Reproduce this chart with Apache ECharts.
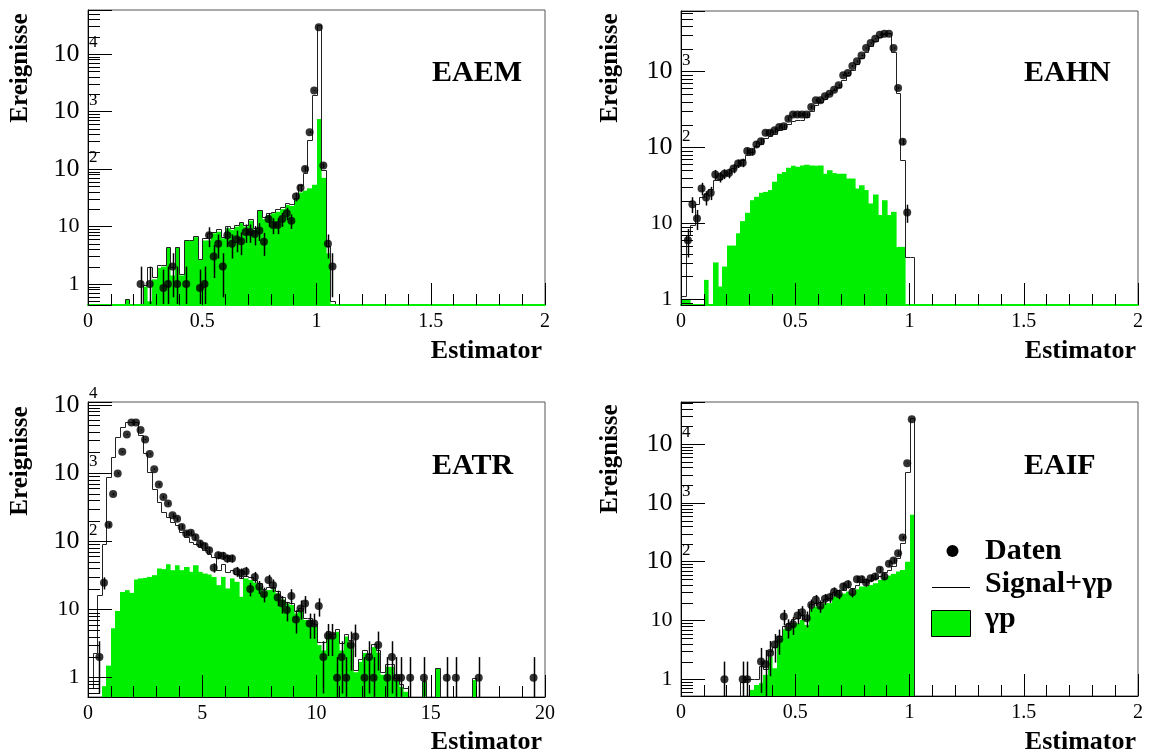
<!DOCTYPE html>
<html><head><meta charset="utf-8">
<script src="https://cdn.jsdelivr.net/npm/echarts@6/dist/echarts.min.js"></script>
<style>html,body{margin:0;padding:0;background:#fff}#c{width:1150px;height:755px}</style>
</head><body><div id="c"></div>
<script>
// ---------------- data (one value per bin) ----------------
// EAEM : bins of 0.02 starting at 0
const eaemGamma = [0,0,0,0,0,0,0,0,0.54,0, 0,0,0.9,0.5,1.2,1.9,2.0,4.2,1.4,4.3, 1.4,5.7,5.7,6.5,2.6,5.7,5.7,7.6,8.1,6.2, 9.3,8.7,9.9,11.4,9.9,12.6,8.7,18.8,13.3,15.8, 16.9,18,20,23.6,22.7,28.9,39,42,46,53, 740,70,3.4,0];
const eaemSignal = [0,0,0,0,0,0,0,0,0.54,0, 0,0,0.95,2.0,1.3,2.1,2.1,4.3,2.0,4.4, 1.5,5.9,5.9,6.7,2.7,6.2,7.6,8.0,8.9,6.6, 10,9.3,10.5,12,10.5,13.2,9.3,19.5,14.5,17, 18,20,22,26,25,31,52,84,318,1940, 32000,96,4.5,0.5];
const eaemData = [0,0,0,0,0,0,0,0,0,0, 0,1,0,1,0,0,0.85,1,2,1, 0,1,0,0,0.85,1,7,3,5,2, 7,5,6,5.5,8,8,7.4,8.5,5.4,13.5, 10.6,10.6,13.5,17,12.6,33,47,100,436,2300, 29000,115,5,2];

// EAHN : bins of 0.02 starting at 0
const eahnGamma = [1.0,1.0,0,0,0,1.8,0,3.06,1.47,2.7, 5.1,5.1,7.4,10.7,13.8,20.2,22.4,25.3,26,27.5, 35.4,45,47.5,54,57.5,55.6,58,59.4,58,57.5, 58,45,50,46,45,45,39,39,28.8,31.8, 27.5,18.3,24,12.9,20.2,12.9,14.2,4.9,4.9,0, 0];
const eahnSignal = [1.1,7,9.5,18,22,25,28,37,39,43, 46,53,58,69,79,88,104,112,133,140, 152,169,178,205,223,228,232,253,303,361, 400,440,500,565,625,766,890,1065,1275,1520, 1800,2200,2560,2890,3160,3260,1800,525,69,3.6, 3.6];
const eahnData = [0,6.0,17.9,11.6,28.9,21.9,25.3,44,41,45, 46,53,61.5,63,90,88,110,121,156,156, 169,187,191,240,272,272,272,272,343,419, 419,473,513,579,661,894,960,1186,1366,1637, 2046,2382,2716,3065,3160,3160,2046,610,119,13.9, 0];

// EATR : bins of 0.2 starting at 0
const eatrGamma = [0,0,0,0.75,1.5,5.3,9.5,18,19.2,17.5, 27.5,28.5,29,30,31.8,39.8,39,46,37.6,44.6, 37.6,42,35.6,44.6,35.6,33.6,32.5,30,22.7,30, 20.3,28.5,25.4,15.3,28.5,27,24.6,21.6,18,19.2, 19.6,17.2,14,12.2,11.6,8.7,9.8,7,7,5.7, 3.0,2.5,4.4,4.0,4.7,2.5,4.0,3.2,1.2,1.7, 2.3,2.0,2.8,2.3,1.1,1.44,1.44,0.92,0.73,0.62, 0,0,0,0.87,0,0,1.36,0,0,0, 0,0,0,0,0.92,0,0,0,0,0, 0,0,0,0,0,0,0,0];
const eatrSignal = [0.7,2.26,16.2,92.6,861,1740,3390,4750,5650,5650, 5650,3560,1940,1040,593,378,270,228,193,172, 137,116,98,92.6,82.7,74,66,59,37.6,47, 35.6,38,33,29,31,30,27,24,20,21, 21,18.5,15,13,12.5,9.5,10.5,7.6,7.6,6.2, 3.3,3.3,4.8,4.4,5.1,3.2,4.4,3.6,1.3,1.9, 2.5,2.2,3.1,2.5,1.2,1.6,1.6,1.0,0.8,0.7, 0,0,0,0.9,0,0,1.4,0,0,0, 0,0,0,0,1.0,0,0,0,0,0, 0,0,0,0,0,0,0,0];
const eatrData = [0,0,2,24.6,174,491,987,2048,3670,5500, 5500,4270,3090,1900,1140,680,445,357,240,214, 162,130,133,114,93,85,74,41,62.5,61, 56,56,36,34,36,20,30,21.5,16.8,27, 22.7,15,12.2,9.8,15.8,7.1,10.3,12.2,6.2,6.2, 11.2,2,4.1,4.1,1,2,1,3,4,0, 1,2,1,3,0,1,2,1,1,0, 1,0,0,1,0,0,0,0,1,0, 1,0,0,0,0,1,0,0,0,0, 0,0,0,0,0,0,0,1];

// EAIF : bins of 0.02 starting at 0
const eaifGamma = [0,0,0,0,0,0,0,0,0,0, 0,0,0,0,0,0.66,0.8,0.86,1.19,2.4, 1.54,5.0,7.1,7.7,9.0,9.0,10.2,8.4,16.2,17.3, 17.3,19.7,19.7,25.5,29,28.6,31,29,34,37.8, 37.8,40,43,49,54,58,62,68,72,100, 625];
const eaifSignal = [0,0,0,0,0,0,0,0,0,0, 0,0,0,0.9,1.0,1.0,1.0,1.7,1.5,3.0, 3.6,5.5,8.2,9,10.5,11,12.5,10.5,19,20, 21,23.5,24,30,33,33,37,35,40,45, 45,49,52,58,66,72,84,114,205,3400, 27600];
const eaifData = [0,0,0,0,0,0,0,0,0,1, 0,0,0,1,1,0,0,2,1.8,2.8, 3.9,4.8,11.7,7.7,8.6,12.1,13.8,10.9,18.4,22.4, 17.7,23.3,24.9,30.9,28.3,37.8,41.4,30.2,50.4,50.4, 44.2,52.3,55.9,72.5,55.9,91.8,105,139,257,4720, 26400];

const panelNames = ['EAEM', 'EAHN', 'EATR', 'EAIF'];
const legendLabels = ['Daten', 'Signal+\u03b3p', '\u03b3p'];
const yTitle = 'Ereignisse';
const xTitle = 'Estimator';

// ---------------- layout / style ----------------
const GREEN = '#00ee00';
const FONT = '"Liberation Serif", "Times New Roman", serif';
const panels = [
  {name: panelNames[0], gamma: eaemGamma, signal: eaemSignal, data: eaemData, bw: 0.02, xmax: 2, xint: 0.5, ymin: 0.43, ymax: 58000,
   grid: {left: 88, top: 10, width: 457, height: 295}, greenBase: true, lab: [432, 73], yt: [21, 68], xt: [542, 351]},
  {name: panelNames[1], gamma: eahnGamma, signal: eahnSignal, data: eahnData, bw: 0.02, xmax: 2, xint: 0.5, ymin: 0.84, ymax: 6300,
   grid: {left: 681, top: 11, width: 457, height: 294}, greenBase: true, lab: [1024, 73], yt: [611, 68], xt: [1136, 351]},
  {name: panelNames[2], gamma: eatrGamma, signal: eatrSignal, data: eatrData, bw: 0.2, xmax: 20, xint: 5, ymin: 0.52, ymax: 11000,
   grid: {left: 88, top: 402, width: 457, height: 295}, greenBase: false, lab: [432, 466], yt: [21, 461], xt: [542, 742]},
  {name: panelNames[3], gamma: eaifGamma, signal: eaifSignal, data: eaifData, bw: 0.02, xmax: 2, xint: 0.5, ymin: 0.52, ymax: 51700,
   grid: {left: 681, top: 402, width: 457, height: 294}, greenBase: false, lab: [1024, 466], yt: [611, 459], xt: [1136, 742]}
];

const crisp = p => [Math.round(p[0]) + 0.5, Math.round(p[1]) + 0.5];

function yFmt(v) {
  const e = Math.log10(v), r = Math.round(e);
  if (Math.abs(e - r) > 1e-6) return '';
  if (r === 0) return '{c|1}{p| }';
  if (r === 1) return '{c|10}{p| }';
  return '{b|10}{g| }{s|' + r + '}';
}

const grids = [], xAxes = [], yAxes = [], series = [], graphics = [];

panels.forEach((p, i) => {
  grids.push(Object.assign({show: true, borderColor: '#555', borderWidth: 1, backgroundColor: 'transparent'}, p.grid));
  xAxes.push({
    gridIndex: i, type: 'value', min: 0, max: p.xmax, interval: p.xint, z: 5,
    axisLine: {onZero: false, lineStyle: {color: p.greenBase ? GREEN : '#000', width: p.greenBase ? 2 : 1}},
    axisTick: {inside: true, length: 22, lineStyle: {color: '#000'}},
    minorTick: {show: true, splitNumber: 5, length: 11, lineStyle: {color: '#000'}},
    splitLine: {show: false}, minorSplitLine: {show: false},
    axisLabel: {margin: 7, fontSize: 20, fontFamily: FONT, color: '#000'}
  });
  yAxes.push({
    gridIndex: i, type: 'log', logBase: 10, min: p.ymin, max: p.ymax, z: 5,
    axisLine: {lineStyle: {color: '#000'}},
    axisTick: {inside: true, length: 24, lineStyle: {color: '#000'}},
    splitLine: {show: false},
    axisLabel: {
      margin: -9.5, formatter: yFmt, color: '#000',
      rich: {
        b: {fontSize: 26, fontFamily: FONT, color: '#000'},
        c: {fontSize: 22, fontFamily: FONT, color: '#000'},
        g: {width: 9.5},
        p: {width: 18},
        s: {fontSize: 17, fontFamily: FONT, color: '#000', padding: [0, 0, 22, 0]}
      }
    }
  });

  const ymin = p.ymin, bw = p.bw;
  // green gamma-p histogram
  const barData = [];
  p.gamma.forEach((v, k) => { if (v > 0) barData.push([k * bw, (k + 1) * bw, v]); });
  series.push({
    type: 'custom', name: '\u03b3p', xAxisIndex: i, yAxisIndex: i, z: 2, clip: true, silent: true,
    encode: {x: [0, 1], y: 2}, data: barData,
    renderItem: (params, api) => {
      const a = api.coord([api.value(0), ymin]);
      const b = api.coord([api.value(1), api.value(2)]);
      const x0 = Math.round(a[0]), x1 = Math.round(b[0]);
      return {type: 'rect', shape: {x: x0, y: b[1], width: x1 - x0 + 0.6, height: a[1] - b[1]}, style: {fill: GREEN}};
    }
  });
  // signal + gamma-p step outline
  const stepData = [];
  const n = p.signal.length;
  for (let k = 0; k <= n; k++) {
    const v = k < n ? p.signal[k] : 0, vp = k > 0 ? p.signal[k - 1] : 0;
    if (v <= 0 && vp <= 0) continue;
    stepData.push([k * bw, (k + 1) * bw, Math.max(v, ymin), Math.max(vp, ymin)]);
  }
  series.push({
    type: 'custom', name: 'Signal+\u03b3p', xAxisIndex: i, yAxisIndex: i, z: 3, clip: true, silent: true,
    encode: {x: [0, 1], y: [2, 3]}, data: stepData,
    renderItem: (params, api) => {
      const x0 = api.value(0), x1 = api.value(1), yv = api.value(2), yp = api.value(3);
      const pts = [api.coord([x0, yp]), api.coord([x0, yv]), api.coord([x1, yv])].map(crisp);
      return {type: 'polyline', shape: {points: pts}, style: {stroke: '#222', lineWidth: 1, fill: null}};
    }
  });
  // data error bars
  const errData = [], dotData = [];
  p.data.forEach((v, k) => {
    if (v > 0) {
      const xc = (k + 0.5) * bw;
      dotData.push([xc, v]);
      errData.push([xc, Math.max(v - Math.sqrt(v), ymin), v + Math.sqrt(v)]);
    }
  });
  series.push({
    type: 'custom', xAxisIndex: i, yAxisIndex: i, z: 4, clip: true, silent: true,
    encode: {x: 0, y: [1, 2]}, data: errData,
    renderItem: (params, api) => {
      const a = api.coord([api.value(0), api.value(1)]);
      const b = api.coord([api.value(0), api.value(2)]);
      const x = Math.round(a[0]) + 0.5;
      return {type: 'line', shape: {x1: x, y1: a[1], x2: x, y2: b[1]}, style: {stroke: '#000', lineWidth: 1.5}};
    }
  });
  series.push({
    type: 'scatter', name: 'Daten', xAxisIndex: i, yAxisIndex: i, z: 4, silent: true,
    symbol: 'circle', symbolSize: 8, itemStyle: {color: '#000'}, data: dotData
  });
  // log minor ticks on y axis (2..9 x 10^n)
  const minor = [];
  for (let e = -1; e <= 5; e++) for (let m = 2; m <= 9; m++) {
    const v = m * Math.pow(10, e);
    if (v > ymin && v < p.ymax) minor.push([0, v]);
  }
  series.push({
    type: 'custom', xAxisIndex: i, yAxisIndex: i, z: 6, clip: true, silent: true,
    encode: {x: 0, y: 1}, data: minor,
    renderItem: (params, api) => {
      const a = crisp(api.coord([0, api.value(1)]));
      return {type: 'line', shape: {x1: a[0] - 0.5, y1: a[1], x2: a[0] + 11.5, y2: a[1]}, style: {stroke: '#000', lineWidth: 1}};
    }
  });

  // texts
  graphics.push({type: 'text', x: p.lab[0], y: p.lab[1], z: 10,
    style: {text: p.name, font: 'bold 30px ' + FONT, fill: '#000', align: 'left', verticalAlign: 'middle', textAlign: 'left', textVerticalAlign: 'middle'}});
  graphics.push({type: 'text', x: p.yt[0], y: p.yt[1], rotation: Math.PI / 2, z: 10,
    style: {text: yTitle, font: 'bold 25px ' + FONT, fill: '#000', align: 'center', verticalAlign: 'middle', textAlign: 'center', textVerticalAlign: 'middle'}});
  graphics.push({type: 'text', x: p.xt[0], y: p.xt[1], z: 10,
    style: {text: xTitle, font: 'bold 26px ' + FONT, fill: '#000', align: 'right', verticalAlign: 'middle', textAlign: 'right', textVerticalAlign: 'middle'}});
});

// legend (inside EAIF panel)
graphics.push({type: 'circle', shape: {cx: 952.5, cy: 551, r: 6}, style: {fill: '#000'}, z: 10});
graphics.push({type: 'line', shape: {x1: 932, y1: 587.5, x2: 970, y2: 587.5}, style: {stroke: '#000', lineWidth: 1}, z: 10});
graphics.push({type: 'rect', shape: {x: 931.5, y: 610.5, width: 39, height: 26}, style: {fill: GREEN, stroke: '#000', lineWidth: 1}, z: 10});
[[legendLabels[0], 551.5], [legendLabels[1], 584], [legendLabels[2], 619]].forEach(([t, y]) => {
  graphics.push({type: 'text', x: 985, y: y, z: 10,
    style: {text: t, font: 'bold 30px ' + FONT, fill: '#000', align: 'left', verticalAlign: 'middle', textAlign: 'left', textVerticalAlign: 'middle'}});
});

const chart = echarts.init(document.getElementById('c'), null, {renderer: 'canvas'});
chart.setOption({
  backgroundColor: '#fff',
  animation: false,
  grid: grids, xAxis: xAxes, yAxis: yAxes, series: series, graphic: graphics
});
</script>
</body></html>
